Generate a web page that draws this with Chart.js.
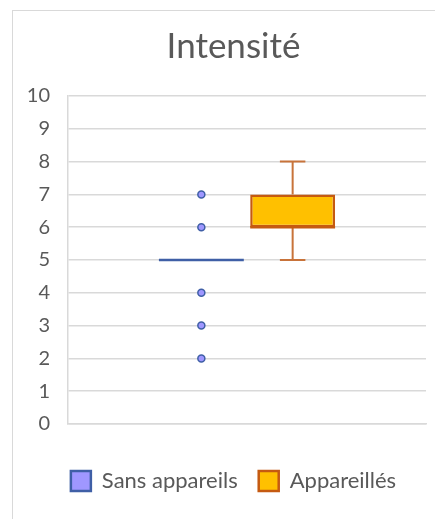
<!DOCTYPE html>
<html>
<head>
<meta charset="utf-8">
<script src="https://cdn.jsdelivr.net/npm/chart.js@4.4.1/dist/chart.umd.min.js"></script>
<style>
    html, body { margin: 0; padding: 0; background: #fff; overflow: hidden; width: 435px; height: 519px; }
    #chart-container { position: absolute; left: 12px; top: 10px; width: 441px; height: 520px; border: 1px solid #D9D9D9; }
</style>
</head>
<body>
<div id="chart-container"><canvas id="intensite-chart" width="441" height="520"></canvas></div>
<script>
'use strict';

// one category, two box plots
const categories = [''];
const seriesNames = ['Sans appareils', 'Appareillés'];
const whiskerMin = [5, 5];
const quartile1 = [5, 6];
const medians = [5, 6];
const quartile3 = [5, 7];
const whiskerMax = [5, 8];
const outliers = [[2, 3, 4, 6, 7], []];
const yMin = 0;
const yMax = 10;
const yStep = 1;

const fillColors = ['#9F97FF', '#FFC000'];
const edgeColors = ['#3F5FA6', '#C55A11'];
const whiskerColors = ['#3F5FA6', '#C8733A'];
const textColor = '#595959';
const gridColor = '#D9D9D9';
const fontFamily = 'Lato, "Open Sans", sans-serif';

window.boxPlotExtras = {
    id: 'boxPlotExtras',
    afterDatasetsDraw: function (chart) {
        let ctx = chart.ctx;
        let yScale = chart.scales.y;
        chart.data.datasets.forEach(function (ds, i) {
            let bar = chart.getDatasetMeta(i).data[0];
            let x = bar.x;
            let w = bar.width;
            let cap = w * 0.3;
            ctx.save();
            ctx.lineWidth = 2;
            ctx.strokeStyle = whiskerColors[i];
            ctx.beginPath();
            // upper whisker + cap
            ctx.moveTo(x, yScale.getPixelForValue(quartile3[i]));
            ctx.lineTo(x, yScale.getPixelForValue(whiskerMax[i]));
            ctx.moveTo(x - cap / 2, yScale.getPixelForValue(whiskerMax[i]));
            ctx.lineTo(x + cap / 2, yScale.getPixelForValue(whiskerMax[i]));
            // lower whisker + cap
            ctx.moveTo(x, yScale.getPixelForValue(quartile1[i]));
            ctx.lineTo(x, yScale.getPixelForValue(whiskerMin[i]));
            ctx.moveTo(x - cap / 2, yScale.getPixelForValue(whiskerMin[i]));
            ctx.lineTo(x + cap / 2, yScale.getPixelForValue(whiskerMin[i]));
            ctx.stroke();

            // median
            ctx.lineWidth = 2.5;
            ctx.strokeStyle = edgeColors[i];
            ctx.beginPath();
            ctx.moveTo(x - w / 2, yScale.getPixelForValue(medians[i]));
            ctx.lineTo(x + w / 2, yScale.getPixelForValue(medians[i]));
            ctx.stroke();

            // outliers
            ctx.lineWidth = 1.5;
            ctx.fillStyle = fillColors[i];
            outliers[i].forEach(function (v) {
                ctx.beginPath();
                ctx.arc(x, yScale.getPixelForValue(v), 3.5, 0, Math.PI * 2);
                ctx.fill();
                ctx.stroke();
            });
            ctx.restore();
        });
    },
};

window.buildIntensiteChart = function () {
    let ctx = document.getElementById('intensite-chart').getContext('2d');
    let datasets = seriesNames.map(function (name, i) {
        return {
            label: name,
            data: [[quartile1[i], quartile3[i]]],
            backgroundColor: fillColors[i],
            borderColor: edgeColors[i],
            borderWidth: 2.5,
            borderSkipped: false,
            categoryPercentage: 0.51,
            barPercentage: 0.93,
        };
    });

    window.intensiteChart = new Chart(ctx, {
        type: 'bar',
        data: {
            labels: categories,
            datasets: datasets,
        },
        plugins: [boxPlotExtras],
        options: {
            responsive: false,
            animation: false,
            layout: {
                padding: { left: 0, right: 0, top: 0, bottom: 29 },
            },
            plugins: {
                tooltip: { enabled: false },
                title: {
                    display: true,
                    text: 'Intensité',
                    color: textColor,
                    font: { family: fontFamily, size: 35, weight: 'normal' },
                    padding: { top: 15, bottom: 28 },
                },
                legend: {
                    position: 'bottom',
                    labels: {
                        color: textColor,
                        font: { family: fontFamily, size: 22 },
                        boxWidth: 20,
                        boxHeight: 20,
                        padding: 21,
                    },
                },
            },
            scales: {
                x: {
                    grid: { display: false },
                    border: { display: true, color: gridColor, width: 1.5 },
                    ticks: { display: false },
                    afterFit: function (scale) {
                        scale.height = scale.height + 17;
                    },
                },
                y: {
                    min: yMin,
                    max: yMax,
                    ticks: {
                        stepSize: yStep,
                        color: textColor,
                        padding: 18,
                        font: { family: fontFamily, size: 20 },
                    },
                    grid: { color: gridColor, lineWidth: 1.5, drawTicks: false },
                    border: { display: true, color: gridColor, width: 1.5 },
                    afterFit: function (scale) {
                        scale.width = 55;
                    },
                },
                // empty right-hand margin of the plot area
                yRight: {
                    position: 'right',
                    min: yMin,
                    max: yMax,
                    grid: { display: false },
                    border: { display: false },
                    ticks: { display: false },
                    afterFit: function (scale) {
                        scale.width = 28;
                    },
                },
            },
        },
    });
};

buildIntensiteChart();
</script>
</body>
</html>
